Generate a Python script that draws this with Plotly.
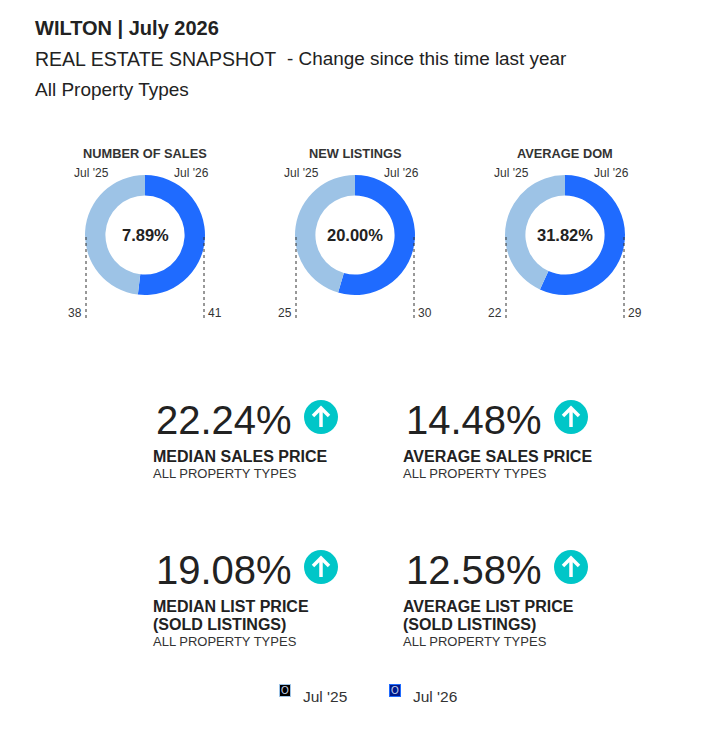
import plotly.graph_objects as go

# page has an 8px body margin, so the figure is drawn a bit smaller
OFF = 8
W, H = 703 - 2 * OFF, 739 - 2 * OFF

# donut data
metrics = ["NUMBER OF SALES", "NEW LISTINGS", "AVERAGE DOM"]
periods = ["Jul '25", "Jul '26"]
prev_vals = [38, 25, 22]
curr_vals = [41, 30, 29]

# kpi data
kpi_values = [22.24, 14.48, 19.08, 12.58]
kpi_titles = [["MEDIAN SALES PRICE"], ["AVERAGE SALES PRICE"],
              ["MEDIAN LIST PRICE", "(SOLD LISTINGS)"], ["AVERAGE LIST PRICE", "(SOLD LISTINGS)"]]
kpi_sub = "ALL PROPERTY TYPES"

C_PREV = "#9dc3e6"
C_CURR = "#1f6bff"
TEAL = "#00c6c8"
DARK = "#222222"
FONT = "Liberation Sans, Arial, sans-serif"


def px(x):
    return (x - OFF) / W


def py(y):
    return 1 - (y - OFF) / H


fig = go.Figure()
ann = []
shapes = []

def text(x, y, s, size, bold=False, xanchor="center", color=DARK, yanchor="middle"):
    if bold:
        s = "<b>" + s + "</b>"
    ann.append(dict(x=px(x), y=py(y), xref="paper", yref="paper", text=s, showarrow=False,
                    xanchor=xanchor, yanchor=yanchor, borderpad=0, borderwidth=0,
                    font=dict(family=FONT, size=size, color=color)))

# header
text(35, 28, "WILTON | July 2026", 20, bold=True, xanchor="left")
text(35, 59, "REAL ESTATE SNAPSHOT", 19.5, xanchor="left")
text(287, 59, "- Change since this time last year", 18.9, xanchor="left")
text(35, 89, "All Property Types", 19, xanchor="left")

# donuts - Jul '26 starts at 12 o'clock and runs clockwise
R = 60
cy = 235
centers = [145, 355, 565]
for i, m in enumerate(metrics):
    cx = centers[i]
    fig.add_trace(go.Pie(
        labels=periods[::-1], values=[curr_vals[i], prev_vals[i]],
        marker=dict(colors=[C_CURR, C_PREV], line=dict(width=0)),
        hole=0.66, sort=False, direction="clockwise", rotation=0,
        textinfo="none", showlegend=False,
        domain=dict(x=[px(cx - R), px(cx + R)], y=[py(cy + R), py(cy - R)])))
    chg = (curr_vals[i] - prev_vals[i]) / prev_vals[i] * 100
    text(cx, cy, "%.2f%%" % chg, 16.5, bold=True)
    text(cx, 154, m, 12.8, bold=True, color="#333333")
    text(cx - 54, 173, periods[0], 12, color="#333333")
    text(cx + 46, 173, periods[1], 12, color="#333333")
    for side, v in [(-1, prev_vals[i]), (1, curr_vals[i])]:
        lx = cx + side * (R - 1)
        shapes.append(dict(type="line", xref="paper", yref="paper",
                           x0=px(lx), x1=px(lx), y0=py(cy + 2), y1=py(318),
                           line=dict(color="#333333", width=1, dash="dot")))
        text(lx + side * 4, 313, str(v), 12, xanchor="left" if side > 0 else "right", color="#333333")

# kpi blocks
num_right = [292, 542, 292, 542]
lab_left = [153, 403, 153, 403]
row_y = [420, 420, 570, 570]
for i, v in enumerate(kpi_values):
    y0 = row_y[i]
    text(num_right[i], y0, "%.2f%%" % v, 40, xanchor="right")
    ax, ay = num_right[i] + 29, y0 - 3
    shapes.append(dict(type="circle", xref="paper", yref="paper",
                       x0=px(ax - 17), x1=px(ax + 17), y0=py(ay + 17), y1=py(ay - 17),
                       fillcolor=TEAL, line=dict(width=0)))
    shapes.append(dict(type="path", xref="paper", yref="paper",
                       path="M %f,%f L %f,%f M %f,%f L %f,%f L %f,%f" % (
                           px(ax), py(ay + 10), px(ax), py(ay - 9),
                           px(ax - 8), py(ay - 1), px(ax), py(ay - 9), px(ax + 8), py(ay - 1)),
                       line=dict(color="white", width=3.5)))
    ly = y0 + 36
    for t in kpi_titles[i]:
        text(lab_left[i], ly, t, 16, bold=True, xanchor="left")
        ly += 18
    text(lab_left[i], ly - 1, kpi_sub, 13, xanchor="left", color="#333333")

# legend
leg = [(285, 303, C_PREV, "#000000"), (395, 413, C_CURR, "#001a8c")]
for (bx, tx, bc, fc), p in zip(leg, periods):
    ann.append(dict(x=px(bx), y=py(697), xref="paper", yref="paper", text="O", showarrow=False,
                    bgcolor=fc, bordercolor=bc, borderwidth=1, borderpad=0,
                    font=dict(family=FONT, size=10, color="#c8d8f0"), width=10, height=11))
    text(tx, 696, p, 15.5, xanchor="left", color="#333333")

fig.update_layout(width=W, height=H, margin=dict(l=0, r=0, t=0, b=0),
                  paper_bgcolor="white", plot_bgcolor="white",
                  annotations=ann, shapes=shapes, font=dict(family=FONT))
fig.write_html("out.html")
